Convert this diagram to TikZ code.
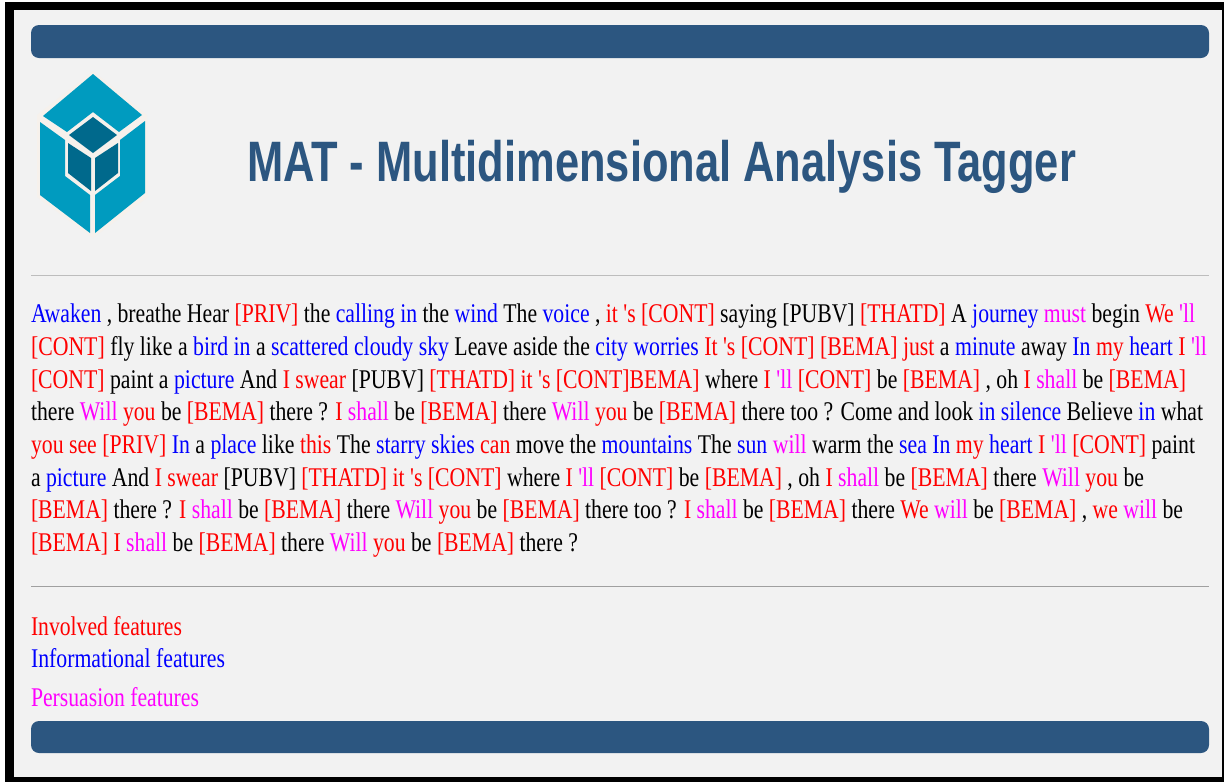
\documentclass[tikz,border=0pt]{standalone}
\usepackage{fontspec}
\usepackage{graphicx}
\setmainfont{Liberation Serif}[Ligatures=TeXOff]
\newfontfamily\titlefont{Liberation Sans}
\definecolor{barblue}{HTML}{2C5680}
\definecolor{pagebg}{HTML}{F2F2F2}
\definecolor{cubeA}{HTML}{009BBF}
\definecolor{cubeB}{HTML}{00698C}
\definecolor{halo}{HTML}{F6F1EC}
\definecolor{ruleA}{HTML}{BDBDBD}
\definecolor{ruleB}{HTML}{A0A0A0}
\definecolor{tagred}{HTML}{FF0000}
\definecolor{tagblue}{HTML}{0000FF}
\definecolor{tagmag}{HTML}{FF00FF}
\newcommand{\R}[1]{\textcolor{tagred}{#1}}
\newcommand{\B}[1]{\textcolor{tagblue}{#1}}
\newcommand{\M}[1]{\textcolor{tagmag}{#1}}
\newcommand{\fitline}[2]{\resizebox{#1pt}{\height}{\fontsize{27}{27}\selectfont\strut #2}}
\tikzset{
  bar/.style={fill=barblue,draw=none,rounded corners=8pt},
  textline/.style={anchor=base west,inner sep=0pt,outer sep=0pt},
  cubeouter/.style={fill=cubeA,draw=none},
  cubeinner/.style={fill=cubeB,draw=none},
}
\begin{document}
\begin{tikzpicture}[x=1pt,y=-1pt]
\useasboundingbox (0,0) rectangle (1225,782);
\fill[white] (0,0) rectangle (1225,782);
\fill[black] (5,2) rectangle (1224,782);
\fill[pagebg] (14,10) rectangle (1222,777);
\fill[bar] (31,25) rectangle (1209,58);
\fill[bar] (31,721) rectangle (1209,753);
\draw[ruleA,line width=1pt] (31,275) -- (1209,275);
\draw[ruleB,line width=1pt] (31,586) -- (1209,586);
% logo
\fill[halo] (93,71) -- (147,115) -- (148,197) -- (93,238) -- (37,197) -- (37,115) -- cycle;
\fill[cubeouter] (93,74) -- (142,115) -- (119,132) -- (93,112) -- (67,132) -- (43,116) -- cycle;
\fill[cubeouter] (40,122) -- (65,140) -- (65,176) -- (90,195) -- (90,233) -- (40,195) -- cycle;
\fill[cubeouter] (145,121) -- (120,140) -- (120,176) -- (95,195) -- (95,233) -- (145,193) -- cycle;
\fill[cubeinner] (93,117) -- (117,135) -- (93,153) -- (69,135) -- cycle;
\fill[cubeinner] (68,143) -- (91,158) -- (91,191) -- (68,173) -- cycle;
\fill[cubeinner] (118,143) -- (95,158) -- (95,191) -- (118,173) -- cycle;
% title
\node[textline,text=barblue] (title) at (247,181) {\resizebox{829pt}{\height}{\titlefont\bfseries\fontsize{57}{57}\selectfont MAT - Multidimensional Analysis Tagger}};
% body
\node[textline] (l1) at (31,322) {\fitline{1164}{\B{Awaken} , breathe Hear \R{[PRIV]} the \B{calling in} the \B{wind} The \B{voice} , \R{it 's [CONT]} saying [PUBV] \R{[THATD]} A \B{journey} \M{must} begin \R{We} \M{'ll}}};
\node[textline] (l2) at (31,355) {\fitline{1176}{\R{[CONT]} fly like a \B{bird in} a \B{scattered cloudy sky} Leave aside the \B{city worries} \R{It 's [CONT] [BEMA] just} a \B{minute} away \B{In} \R{my} \B{heart} \R{I} \M{'ll}}};
\node[textline] (l3) at (31,388) {\fitline{1155}{\R{[CONT]} paint a \B{picture} And \R{I swear} [PUBV] \R{[THATD] it 's [CONT]BEMA]} where \R{I} \M{'ll} \R{[CONT]} be \R{[BEMA]} , oh \R{I} \M{shall} be \R{[BEMA]}}};
\node[textline] (l4) at (31,420) {\fitline{1172}{there \M{Will} \R{you} be \R{[BEMA]} there ? \R{I} \M{shall} be \R{[BEMA]} there \M{Will} \R{you} be \R{[BEMA]} there too ? Come and look \B{in silence} Believe \B{in} what}};
\node[textline] (l5) at (31,453) {\fitline{1164}{\R{you see [PRIV]} \B{In} a \B{place} like \R{this} The \B{starry skies} \R{can} move the \B{mountains} The \B{sun} \M{will} warm the \B{sea} \B{In} \R{my} \B{heart} \R{I} \M{'ll} \R{[CONT]} paint}};
\node[textline] (l6) at (31,486) {\fitline{1113}{a \B{picture} And \R{I swear} [PUBV] \R{[THATD] it 's [CONT]} where \R{I} \M{'ll} \R{[CONT]} be \R{[BEMA]} , oh \R{I} \M{shall} be \R{[BEMA]} there \M{Will} \R{you} be}};
\node[textline] (l7) at (31,518) {\fitline{1152}{\R{[BEMA]} there ? \R{I} \M{shall} be \R{[BEMA]} there \M{Will} \R{you} be \R{[BEMA]} there too ? \R{I} \M{shall} be \R{[BEMA]} there \R{We} \M{will} be \R{[BEMA]} , \R{we} \M{will} be}};
\node[textline] (l8) at (31,551) {\fitline{547}{\R{[BEMA]} \R{I} \M{shall} be \R{[BEMA]} there \M{Will} \R{you} be \R{[BEMA]} there ?}};
% legend
\node[textline] (k1) at (31,635) {\fitline{151}{\R{Involved features}}};
\node[textline] (k2) at (31,667) {\fitline{194}{\B{Informational features}}};
\node[textline] (k3) at (31,706) {\fitline{168}{\M{Persuasion features}}};
\end{tikzpicture}
\end{document}
